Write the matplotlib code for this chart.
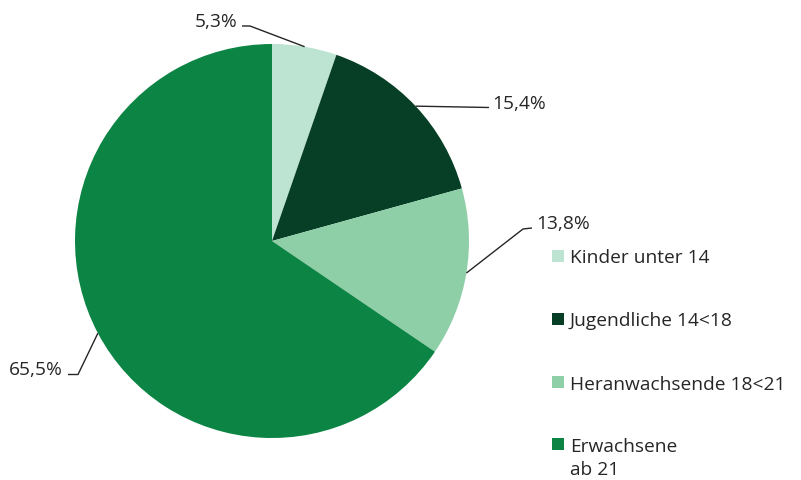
import numpy as np
import matplotlib.pyplot as plt

plt.rcParams['font.family'] = ['Open Sans', 'DejaVu Sans']

# data
categories = ["Kinder unter 14", "Jugendliche 14<18", "Heranwachsende 18<21", "Erwachsene\nab 21"]
shares = [5.3, 15.4, 13.8, 65.5]
value_labels = ["5,3%", "15,4%", "13,8%", "65,5%"]
colors = ["#bde3d2", "#063f25", "#8ecfa8", "#0c8444"]

W, H = 801, 480
text_color = "#262626"
fs = 13.8


def Y(py):
    # pixel row (top down) -> data y
    return H - py


fig = plt.figure(figsize=(W / 100, H / 100), dpi=100)
ax = fig.add_axes([0, 0, 1, 1])

cx, cy, r = 272, Y(241), 197
wedges, _ = ax.pie(shares, colors=colors, startangle=90, counterclock=False,
                   center=(cx, cy), radius=r, frame=True,
                   wedgeprops=dict(linewidth=0))
ax.set_xlim(0, W)
ax.set_ylim(0, H)
ax.set_aspect('equal')
ax.axis('off')

# leader lines: (elbow, end) in pixels, text anchor
leaders = [
    dict(path=[(250, 26), (242, 26)], text=(238, 27), ha='right'),
    dict(path=[(489, 107.5)], text=(492, 109), ha='left'),
    dict(path=[(523, 229), (532, 228)], text=(536, 229), ha='left'),
    dict(path=[(78, 374.5), (68, 374.5)], text=(63, 375), ha='right'),
]

for w, lab, ld in zip(wedges, value_labels, leaders):
    mid = np.deg2rad((w.theta1 + w.theta2) / 2)
    ex = cx + r * np.cos(mid)
    ey = cy + r * np.sin(mid)
    xs = [ex] + [p[0] for p in ld['path']]
    ys = [ey] + [Y(p[1]) for p in ld['path']]
    ax.plot(xs, ys, color=text_color, linewidth=1.0, solid_capstyle='butt')
    ax.text(ld['text'][0], Y(ld['text'][1]), lab, ha=ld['ha'], va='baseline',
            fontsize=fs, color=text_color)

# legend
legend_rows = [255.5, 318.7, 382, 444]
for cat, col, ry in zip(categories, colors, legend_rows):
    ax.add_patch(plt.Rectangle((552, Y(ry) - 6), 12, 12, facecolor=col, edgecolor='none'))
    for k, line in enumerate(cat.split('\n')):
        ax.text(570, Y(ry + 7.5 + 23.5 * k), line, ha='left', va='baseline',
                fontsize=fs, color=text_color)

fig.savefig('out.png', dpi=100)
